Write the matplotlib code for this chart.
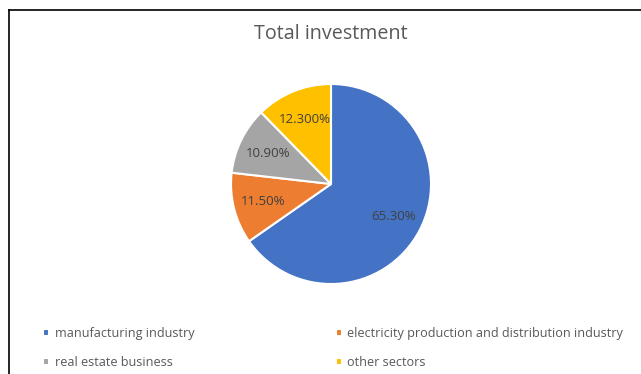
import matplotlib
matplotlib.use("Agg")
from matplotlib import pyplot as plt
from matplotlib.lines import Line2D

sectors = ["manufacturing industry", "electricity production and distribution industry",
           "real estate business", "other sectors"]
shares = [65.3, 11.5, 10.9, 12.3]
pct_labels = ["65.30%", "11.50%", "10.90%", "12.300%"]
colors = ["#4472C4", "#ED7D31", "#A5A5A5", "#FFC000"]

plt.rcParams["font.family"] = ["Open Sans", "DejaVu Sans"]

fig = plt.figure(figsize=(6.41, 3.74), dpi=100)

# frame lines of the original screenshot (top and left only)
fig.add_artist(Line2D([9 / 641, 9 / 641], [0, 1 - 10 / 374], color="black", lw=1.2))
fig.add_artist(Line2D([9 / 641, 1], [1 - 10 / 374, 1 - 10 / 374], color="black", lw=1.2))

fig.text(331 / 641, 1 - 34 / 374, "Total investment", ha="center", va="center",
         fontsize=14.2, color="#595959")

r_px = 100
lim = 1.03
w = 2 * r_px * lim
ax = fig.add_axes([(331 - w / 2) / 641, (374 - 184 - w / 2) / 374, w / 641, w / 374])
wedges, texts = ax.pie(shares, labels=pct_labels, colors=colors, startangle=90,
                       counterclock=False, labeldistance=0.7,
                       wedgeprops=dict(edgecolor="white", linewidth=1.5),
                       textprops=dict(color="#404040", fontsize=9.5, ha="center", va="center"))
for t in texts:
    t.set_ha("center")
ax.set_xlim(-lim, lim)
ax.set_ylim(-lim, lim)

order = [0, 2, 1, 3]
fig.legend([wedges[i] for i in order], [sectors[i] for i in order], ncol=2,
           loc="upper left", bbox_to_anchor=(38 / 641, 1 - 322 / 374), frameon=False,
           fontsize=9.1, labelcolor="#595959", handlelength=0.47, handleheight=0.47,
           handletextpad=0.45, labelspacing=1.25, columnspacing=11.2, borderaxespad=0)

fig.savefig("out.png", dpi=100)
